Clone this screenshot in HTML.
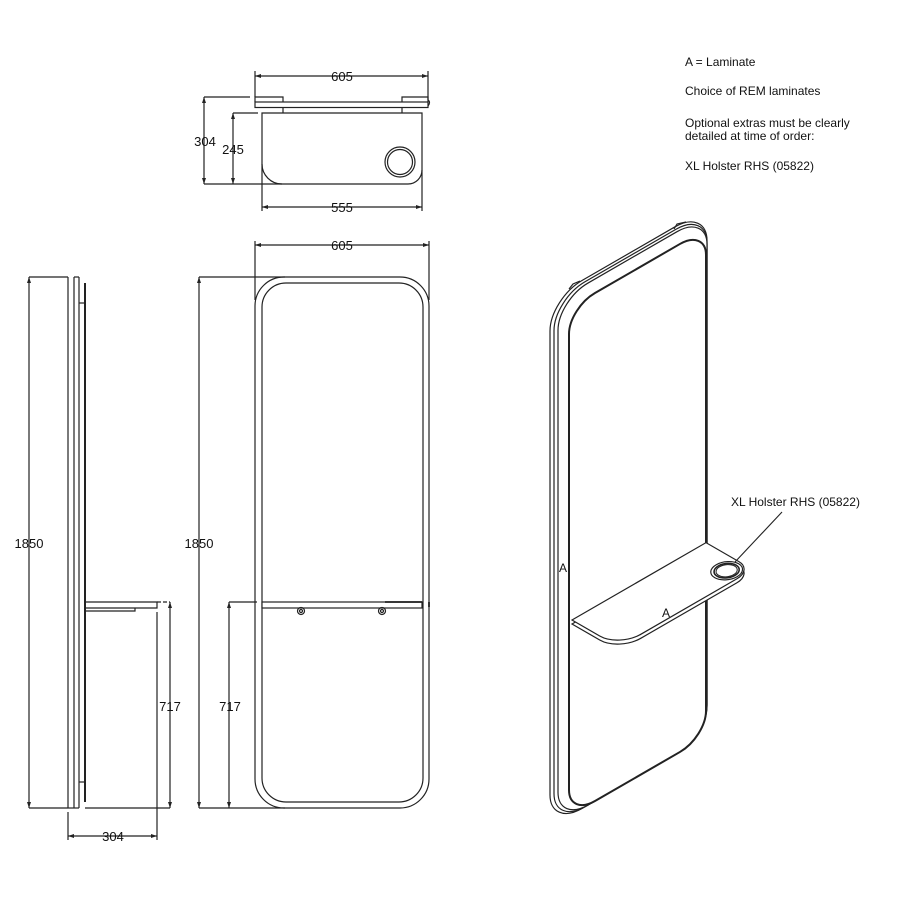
<!DOCTYPE html>
<html>
<head>
<meta charset="utf-8">
<style>
  html,body{margin:0;padding:0;background:#fff;}
  svg{display:block;}
  .t{font-family:"Liberation Sans",Arial,sans-serif;font-size:12px;fill:#111;}
  .d{font-family:"Liberation Sans",Arial,sans-serif;font-size:13px;fill:#111;text-anchor:middle;}
</style>
</head>
<body>
<svg width="900" height="900" viewBox="0 0 900 900" xmlns="http://www.w3.org/2000/svg">
<defs>
  <marker id="ar" viewBox="0 0 6 4" refX="6" refY="2" markerWidth="6" markerHeight="4" markerUnits="userSpaceOnUse" orient="auto-start-reverse">
    <path d="M0,0 L6,2 L0,4 z" fill="#222"/>
  </marker>
</defs>
<rect width="900" height="900" fill="#fff"/>

<!-- ================= TOP VIEW ================= -->
<g stroke="#222" stroke-width="1.2" fill="none">
  <!-- panel (plan) -->
  <rect x="255" y="102" width="173" height="5.5" fill="#fff"/>
  <path d="M255,102 V97 H283 V102"/>
  <path d="M402,102 V97 H428 V102"/>
  <path d="M428,100 Q431,102 428,106"/>
  <line x1="283" y1="107.5" x2="283" y2="113"/>
  <line x1="402" y1="107.5" x2="402" y2="113"/>
  <!-- shelf -->
  <path d="M262,113 H422 V170 A14,14 0 0 1 408,184 H282 A20,20 0 0 1 262,164 Z"/>
  <circle cx="400" cy="162" r="15"/>
  <circle cx="400" cy="162" r="12.5"/>
  <!-- dim 605 -->
  <line x1="255" y1="76" x2="428" y2="76" marker-start="url(#ar)" marker-end="url(#ar)"/>
  <line x1="255" y1="71" x2="255" y2="97"/>
  <line x1="428" y1="71" x2="428" y2="100"/>
  <!-- dim 304 -->
  <line x1="204" y1="97" x2="204" y2="184" marker-start="url(#ar)" marker-end="url(#ar)"/>
  <line x1="204" y1="97" x2="250" y2="97"/>
  <line x1="204" y1="184" x2="282" y2="184"/>
  <!-- dim 245 -->
  <line x1="233" y1="113" x2="233" y2="184" marker-start="url(#ar)" marker-end="url(#ar)"/>
  <line x1="233" y1="113" x2="258" y2="113"/>
  <!-- dim 555 -->
  <line x1="262" y1="207" x2="422" y2="207" marker-start="url(#ar)" marker-end="url(#ar)"/>
  <line x1="262" y1="164" x2="262" y2="211"/>
  <line x1="422" y1="170" x2="422" y2="211"/>
</g>
<text class="d" x="342" y="81">605</text>
<text class="d" x="205" y="146">304</text>
<text class="d" x="233" y="154">245</text>
<text class="d" x="342" y="212">555</text>

<!-- ================= SIDE VIEW ================= -->
<g stroke="#222" stroke-width="1.2" fill="none">
  <line x1="68" y1="277" x2="68" y2="808"/>
  <line x1="74" y1="277" x2="74" y2="808"/>
  <line x1="79" y1="277" x2="79" y2="808"/>
  <line x1="85" y1="283" x2="85" y2="802" stroke-width="2"/>
  <line x1="74" y1="277" x2="79" y2="277"/>
  <line x1="79" y1="303" x2="85" y2="303"/>
  <line x1="79" y1="782" x2="85" y2="782"/>
  <line x1="68" y1="808" x2="79" y2="808"/>
  <!-- shelf -->
  <path d="M85,602 H157 V608 H85"/>
  <path d="M85,611 H135 V608"/>
  <!-- dim 1850 -->
  <line x1="29" y1="277" x2="29" y2="808" marker-start="url(#ar)" marker-end="url(#ar)"/>
  <line x1="29" y1="277" x2="68" y2="277"/>
  <line x1="29" y1="808" x2="68" y2="808"/>
  <line x1="85" y1="808" x2="170" y2="808"/>
  <!-- dim 717 -->
  <line x1="170" y1="602" x2="170" y2="808" marker-start="url(#ar)" marker-end="url(#ar)"/>
  <line x1="157" y1="602" x2="170" y2="602" stroke-dasharray="4,2"/>
  <!-- dim 304 -->
  <line x1="68" y1="812" x2="68" y2="840"/>
  <line x1="157" y1="612" x2="157" y2="840"/>
  <line x1="68" y1="836" x2="157" y2="836" marker-start="url(#ar)" marker-end="url(#ar)"/>
</g>
<text class="d" x="29" y="548">1850</text>
<text class="d" x="170" y="711">717</text>
<text class="d" x="113" y="841">304</text>

<!-- ================= FRONT VIEW ================= -->
<g stroke="#222" stroke-width="1.2" fill="none">
  <rect x="255" y="277" width="174" height="531" rx="29" ry="29"/>
  <rect x="262" y="283" width="161" height="519" rx="24" ry="24"/>
  <!-- shelf -->
  <rect x="262" y="602" width="160" height="6" fill="#fff"/>
  <line x1="385" y1="602" x2="422" y2="602" stroke-width="1.8"/>
  <line x1="429" y1="602" x2="429" y2="607" stroke-width="1.8"/>
  <!-- knobs -->
  <circle cx="301" cy="611" r="3.5"/>
  <circle cx="301" cy="611" r="1.5"/>
  <circle cx="382" cy="611" r="3.5"/>
  <circle cx="382" cy="611" r="1.5"/>
  <!-- dim 605 -->
  <line x1="255" y1="245" x2="429" y2="245" marker-start="url(#ar)" marker-end="url(#ar)"/>
  <line x1="255" y1="241" x2="255" y2="300"/>
  <line x1="429" y1="241" x2="429" y2="300"/>
  <!-- dim 1850 -->
  <line x1="199" y1="277" x2="199" y2="808" marker-start="url(#ar)" marker-end="url(#ar)"/>
  <line x1="199" y1="277" x2="285" y2="277"/>
  <line x1="199" y1="808" x2="285" y2="808"/>
  <!-- dim 717 -->
  <line x1="229" y1="602" x2="229" y2="808" marker-start="url(#ar)" marker-end="url(#ar)"/>
  <line x1="229" y1="602" x2="257" y2="602"/>
</g>
<text class="d" x="342" y="250">605</text>
<text class="d" x="199" y="548">1850</text>
<text class="d" x="230" y="711">717</text>

<!-- ================= ISO VIEW ================= -->
<g transform="translate(550,299) skewY(-30)" fill="#fff" stroke="#222">
  <rect x="0" y="0" width="157" height="528" rx="32" ry="32" stroke-width="1.2" vector-effect="non-scaling-stroke"/>
  <rect x="4" y="3" width="153" height="525" rx="31" ry="31" stroke-width="1.2" vector-effect="non-scaling-stroke"/>
  <rect x="8" y="6" width="149" height="522" rx="30" ry="30" stroke-width="1.2" vector-effect="non-scaling-stroke"/>
  <rect x="19" y="20" width="137" height="508" rx="26" ry="26" stroke-width="2" vector-effect="non-scaling-stroke"/>
</g>
<!-- small brackets tabs -->
<g stroke="#222" stroke-width="1.2" fill="none">
  <path d="M569,289 L573,284 L580,281"/>
  <path d="M674,229 L677,224 L686,222"/>
</g>

<!-- shelf thickness (underside) -->
<g transform="translate(0,4)">
  <g transform="matrix(1,-0.57735,0.866,0.5,572,620)" fill="#fff" stroke="#222">
    <path d="M0,0 H134 V38 A16,16 0 0 1 118,54 H22 A22,22 0 0 1 0,32 Z" stroke-width="1.2" vector-effect="non-scaling-stroke"/>
  </g>
</g>
<!-- shelf top -->
<g transform="matrix(1,-0.57735,0.866,0.5,572,620)" fill="#fff" stroke="#222">
  <path d="M0,0 H134 V38 A16,16 0 0 1 118,54 H22 A22,22 0 0 1 0,32 Z" stroke-width="1.2" vector-effect="non-scaling-stroke"/>
  <circle cx="120" cy="40" r="12" stroke-width="1.2" vector-effect="non-scaling-stroke"/>
  <circle cx="120" cy="40" r="9.5" stroke-width="1.6" vector-effect="non-scaling-stroke"/>
  <circle cx="120" cy="40" r="8" stroke-width="1" vector-effect="non-scaling-stroke"/>
</g>

<!-- leader -->
<line x1="782" y1="512" x2="735" y2="562" stroke="#222" stroke-width="1.1"/>
<text class="t" x="731" y="506">XL Holster RHS (05822)</text>
<text class="t" x="559" y="572">A</text>
<text class="t" x="662" y="617">A</text>

<!-- ================= NOTES ================= -->
<text class="t" x="685" y="66">A = Laminate</text>
<text class="t" x="685" y="95">Choice of REM laminates</text>
<text class="t" x="685" y="127">Optional extras must be clearly</text>
<text class="t" x="685" y="140">detailed at time of order:</text>
<text class="t" x="685" y="170">XL Holster RHS (05822)</text>
</svg>
</body>
</html>
